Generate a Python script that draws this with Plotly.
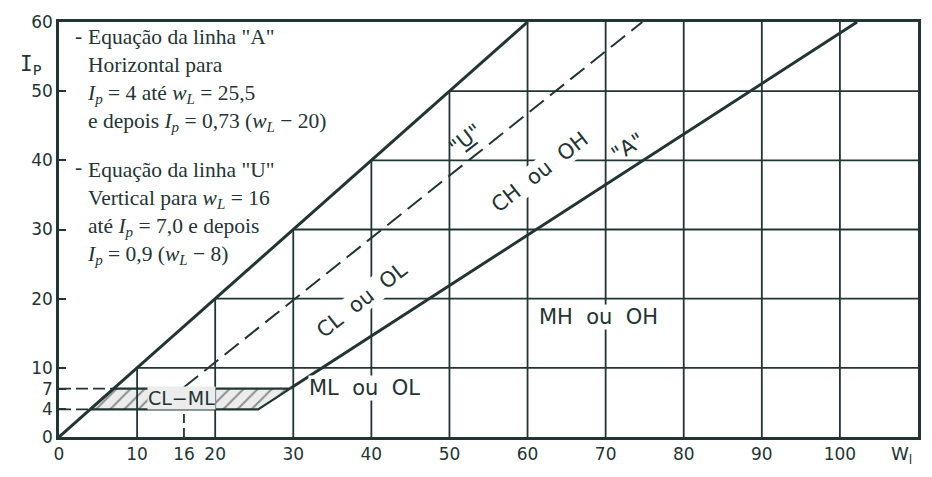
import plotly.graph_objects as go

# ---------------- data ----------------
x_ticks = [0, 10, 16, 20, 30, 40, 50, 60, 70, 80, 90, 100, 110]
y_ticks = [0, 4, 7, 10, 20, 30, 40, 50, 60]
grid_x = [10, 20, 30, 40, 50, 60, 70, 80, 90, 100]
grid_y = [10, 20, 30, 40, 50]

upper_x = [0, 60]
upper_y = [0, 60]
a_line_x = [29.6, 102.2]
a_line_y = [7.0, 60.0]
u_line_x = [16.0, 74.7]
u_line_y = [7.2, 60.0]
hatch_x = [4, 25.5, 29.6, 7, 4]
hatch_y = [4, 4, 7, 7, 4]
dash_h_x = [[0, 4], [0, 7]]
dash_h_y = [[4, 4], [7, 7]]
dash_v_x = [16, 16]
dash_v_y = [0, 4]

region_labels = [
    ("CL  ou  OL", 38.8, 19.8, -38, True),
    ("CH  ou  OH", 61.6, 38.3, -38, True),
    ("MH  ou  OH", 69.1, 17.3, 0, True),
    ("ML  ou  OL", 39.1, 7.1, 0, True),
    ('"<u>U</u>"', 52.1, 43.1, -38, False),
    ('"A"', 72.9, 41.9, -33, False),
]

note_a = [
    'Equação da linha "A"',
    'Horizontal para',
    '<i>I<sub>p</sub></i> = 4 até <i>w<sub>L</sub></i> = 25,5',
    'e depois <i>I<sub>p</sub></i> = 0,73 (<i>w<sub>L</sub></i> − 20)',
]
note_u = [
    'Equação da linha "U"',
    'Vertical para <i>w<sub>L</sub></i> = 16',
    'até <i>I<sub>p</sub></i> = 7,0 e depois',
    '<i>I<sub>p</sub></i> = 0,9 (<i>w<sub>L</sub></i> − 8)',
]
# (text block, x, y-centre, y of first line for the leading dash)
note_blocks = [(note_a, 3.5, 51.6, 58.0), (note_u, 3.5, 32.4, 39.0)]

INK = "#223434"
SANS = "DejaVu Sans"
SERIF = "Liberation Serif"
HATCH_BG = "#ececec"

fig = go.Figure()

# hatched CL-ML zone
fig.add_trace(go.Scatter(
    x=hatch_x, y=hatch_y, mode="lines", fill="toself",
    fillcolor=HATCH_BG,
    fillpattern=dict(shape="/", size=10, solidity=0.2, fgcolor=INK, bgcolor=HATCH_BG),
    line=dict(color=INK, width=2.2), hoverinfo="skip", showlegend=False))

# grid clipped below the line Ip = wL
gx, gy = [], []
for v in grid_x:
    gx += [v, v, None]
    gy += [0, min(v, y_ticks[-1]), None]
for h in grid_y:
    gx += [h, x_ticks[-1], None]
    gy += [h, h, None]
fig.add_trace(go.Scatter(x=gx, y=gy, mode="lines", line=dict(color=INK, width=1.8),
                         hoverinfo="skip", showlegend=False))

# dashed helper lines
for xs, ys in zip(dash_h_x, dash_h_y):
    fig.add_trace(go.Scatter(x=xs, y=ys, mode="lines",
                             line=dict(color=INK, width=1.8, dash="12px,5px"),
                             hoverinfo="skip", showlegend=False))
fig.add_trace(go.Scatter(x=dash_v_x, y=dash_v_y, mode="lines",
                         line=dict(color=INK, width=1.8, dash="9px,5px"),
                         hoverinfo="skip", showlegend=False))

# U line (dashed)
fig.add_trace(go.Scatter(x=u_line_x, y=u_line_y, mode="lines",
                         line=dict(color=INK, width=2, dash="18px,8px"),
                         hoverinfo="skip", showlegend=False))
# upper line and A line
fig.add_trace(go.Scatter(x=upper_x, y=upper_y, mode="lines",
                         line=dict(color=INK, width=3), hoverinfo="skip", showlegend=False))
fig.add_trace(go.Scatter(x=a_line_x, y=a_line_y, mode="lines",
                         line=dict(color=INK, width=3), hoverinfo="skip", showlegend=False))

annotations = []
for txt, x, y, ang, bg in region_labels:
    annotations.append(dict(x=x, y=y, xref="x", yref="y", text=txt, showarrow=False,
                            textangle=ang, font=dict(family=SANS, size=21, color=INK),
                            bgcolor="white" if bg else None, borderpad=0))
annotations.append(dict(x=15.7, y=5.6, xref="x", yref="y", text="CL−ML", showarrow=False,
                        font=dict(family=SANS, size=19, color=INK),
                        bgcolor=HATCH_BG, borderpad=0))
for lines, x, yc, ydash in note_blocks:
    annotations.append(dict(x=x, y=yc, xref="x", yref="y", text="<br>".join(lines),
                            showarrow=False, xanchor="left", yanchor="middle", align="left",
                            borderpad=0,
                            font=dict(family=SERIF, size=21.5, color=INK)))
    annotations.append(dict(x=x - 0.4, y=ydash, xref="x", yref="y", text="-",
                            showarrow=False, xanchor="right", yanchor="middle", borderpad=0,
                            font=dict(family=SERIF, size=21.5, color=INK)))
annotations.append(dict(x=-0.048, y=0.933, xref="paper", yref="paper",
                        text="I<sub>P</sub>", showarrow=False,
                        font=dict(family="DejaVu Sans Mono", size=21, color=INK)))
annotations.append(dict(x=0.995, y=-0.077, xref="paper", yref="paper",
                        text="W<sub>l</sub>", showarrow=False,
                        font=dict(family=SANS, size=18, color=INK)))

fig.update_layout(
    width=932, height=477,
    margin=dict(l=59, r=14, t=22, b=40),
    paper_bgcolor="white", plot_bgcolor="white",
    showlegend=False,
    annotations=annotations,
    xaxis=dict(range=[0, 110], tickvals=x_ticks, ticktext=[str(v) for v in x_ticks],
               showgrid=False, zeroline=False, showline=True, mirror=True,
               linecolor=INK, linewidth=2.5, ticks="",
               tickfont=dict(family=SANS, size=17, color=INK), fixedrange=True),
    yaxis=dict(range=[0, 60], tickvals=y_ticks, ticktext=[str(v) for v in y_ticks],
               showgrid=False, zeroline=False, showline=True, mirror=True,
               linecolor=INK, linewidth=2.5, ticks="inside", ticklen=7, tickwidth=1.8,
               tickcolor=INK,
               tickfont=dict(family=SANS, size=17, color=INK), fixedrange=True),
)

fig.write_html("out.html")
